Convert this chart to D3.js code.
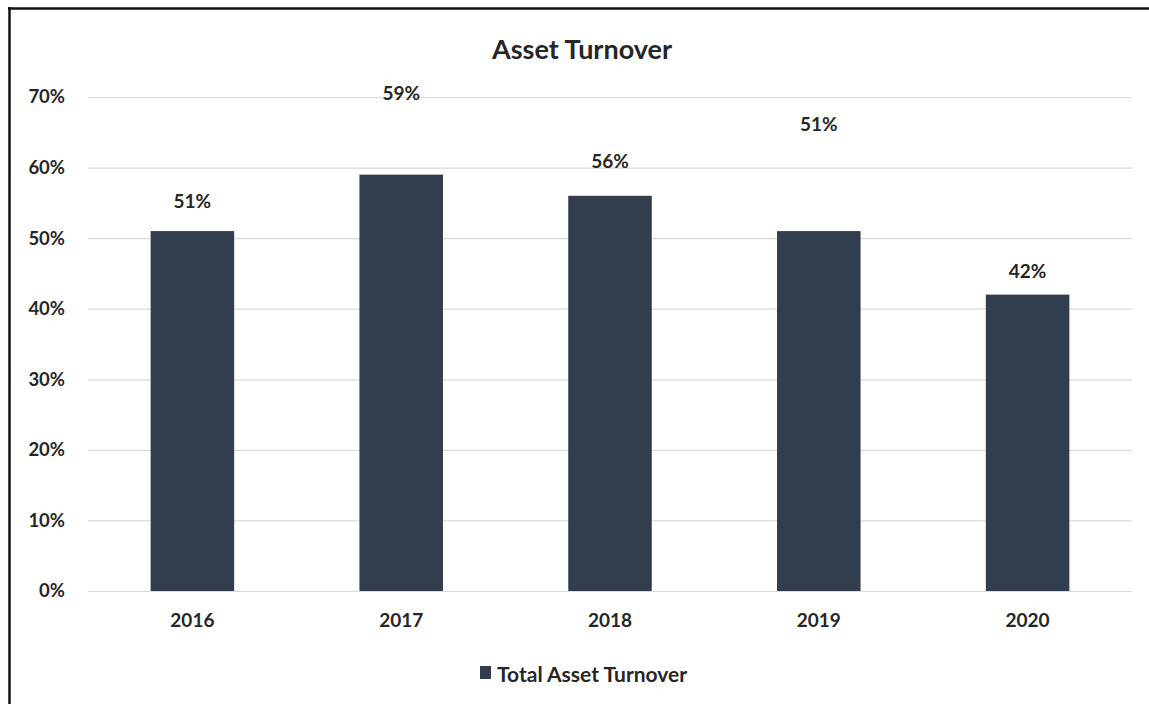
<!DOCTYPE html>
<html>
<head>
<meta charset="utf-8">
<script src="https://cdn.jsdelivr.net/npm/d3@7"></script>
<style>
  html, body { margin: 0; padding: 0; background: #fff; }
  svg { display: block; }
  text { font-family: Lato, "Open Sans", sans-serif; }
</style>
</head>
<body>
<svg id="chart" width="1149" height="704"></svg>
<script>
const title = "Asset Turnover";
const categories = ["2016", "2017", "2018", "2019", "2020"];
const seriesName = "Total Asset Turnover";
const values = [51, 59, 56, 51, 42];
const yTicks = [0, 10, 20, 30, 40, 50, 60, 70];

// label lift above bar top (px), as positioned in the original
const labelLift = [31, 82, 35, 108, 24];

const W = 1149, H = 704;
const svg = d3.select("#chart");
const textColor = "#262626";
const barColor = "#323d4e";
const font = "Lato, 'Open Sans', sans-serif";

// frame
svg.append("line").attr("x1", 9.5).attr("x2", 9.5).attr("y1", 7).attr("y2", H)
  .attr("stroke", "#111").attr("stroke-width", 2.5);
svg.append("line").attr("x1", 8).attr("x2", W).attr("y1", 8.5).attr("y2", 8.5)
  .attr("stroke", "#111").attr("stroke-width", 2.5);

const x = d3.scaleBand().domain(categories).range([88, 1132])
  .paddingInner(0.6).paddingOuter(0.3);
const y = d3.scaleLinear().domain([0, 70]).range([591, 97]);

// gridlines
svg.append("g").selectAll("line").data(yTicks).join("line")
  .attr("x1", 88).attr("x2", 1132)
  .attr("y1", d => y(d) + 0.5).attr("y2", d => y(d) + 0.5)
  .attr("stroke", "#d9d9d9").attr("stroke-width", 1.2);

// y axis labels
const yAxis = d3.axisLeft(y).tickValues(yTicks).tickFormat(d => d + "%").tickSize(0).tickPadding(0);
const yg = svg.append("g").attr("transform", "translate(65,0)").call(yAxis);
yg.select(".domain").remove();
yg.selectAll("text").attr("fill", textColor).style("font-size", "18.5px").style("font-weight", "bold")
  .style("font-family", font);

// bars
svg.append("g").selectAll("rect").data(values).join("rect")
  .attr("x", (d, i) => x(categories[i]))
  .attr("width", x.bandwidth())
  .attr("y", d => y(d))
  .attr("height", d => y(0) - y(d))
  .attr("fill", barColor);

// value labels
svg.append("g").selectAll("text").data(values).join("text")
  .attr("x", (d, i) => x(categories[i]) + x.bandwidth() / 2)
  .attr("y", (d, i) => y(d) - labelLift[i])
  .attr("text-anchor", "middle").attr("dominant-baseline", "central")
  .attr("fill", textColor).style("font-size", "19px").style("font-weight", "bold")
  .text(d => d + "%");

// x axis labels
const xAxis = d3.axisBottom(x).tickSize(0).tickPadding(0);
const xg = svg.append("g").attr("transform", "translate(0,613)").call(xAxis);
xg.select(".domain").remove();
xg.selectAll("text").attr("fill", textColor).style("font-size", "19px").style("font-weight", "bold")
  .style("font-family", font);

// title
svg.append("text").attr("x", 582).attr("y", 48)
  .attr("text-anchor", "middle").attr("dominant-baseline", "central")
  .attr("fill", textColor).style("font-size", "27px").style("font-weight", "bold")
  .text(title);

// legend
const lg = svg.append("g");
lg.append("rect").attr("x", 480).attr("y", 666).attr("width", 11).attr("height", 13).attr("fill", barColor);
lg.append("text").attr("x", 497).attr("y", 673)
  .attr("dominant-baseline", "central")
  .attr("fill", textColor).style("font-size", "21px").style("font-weight", "bold")
  .text(seriesName);
</script>
</body>
</html>
